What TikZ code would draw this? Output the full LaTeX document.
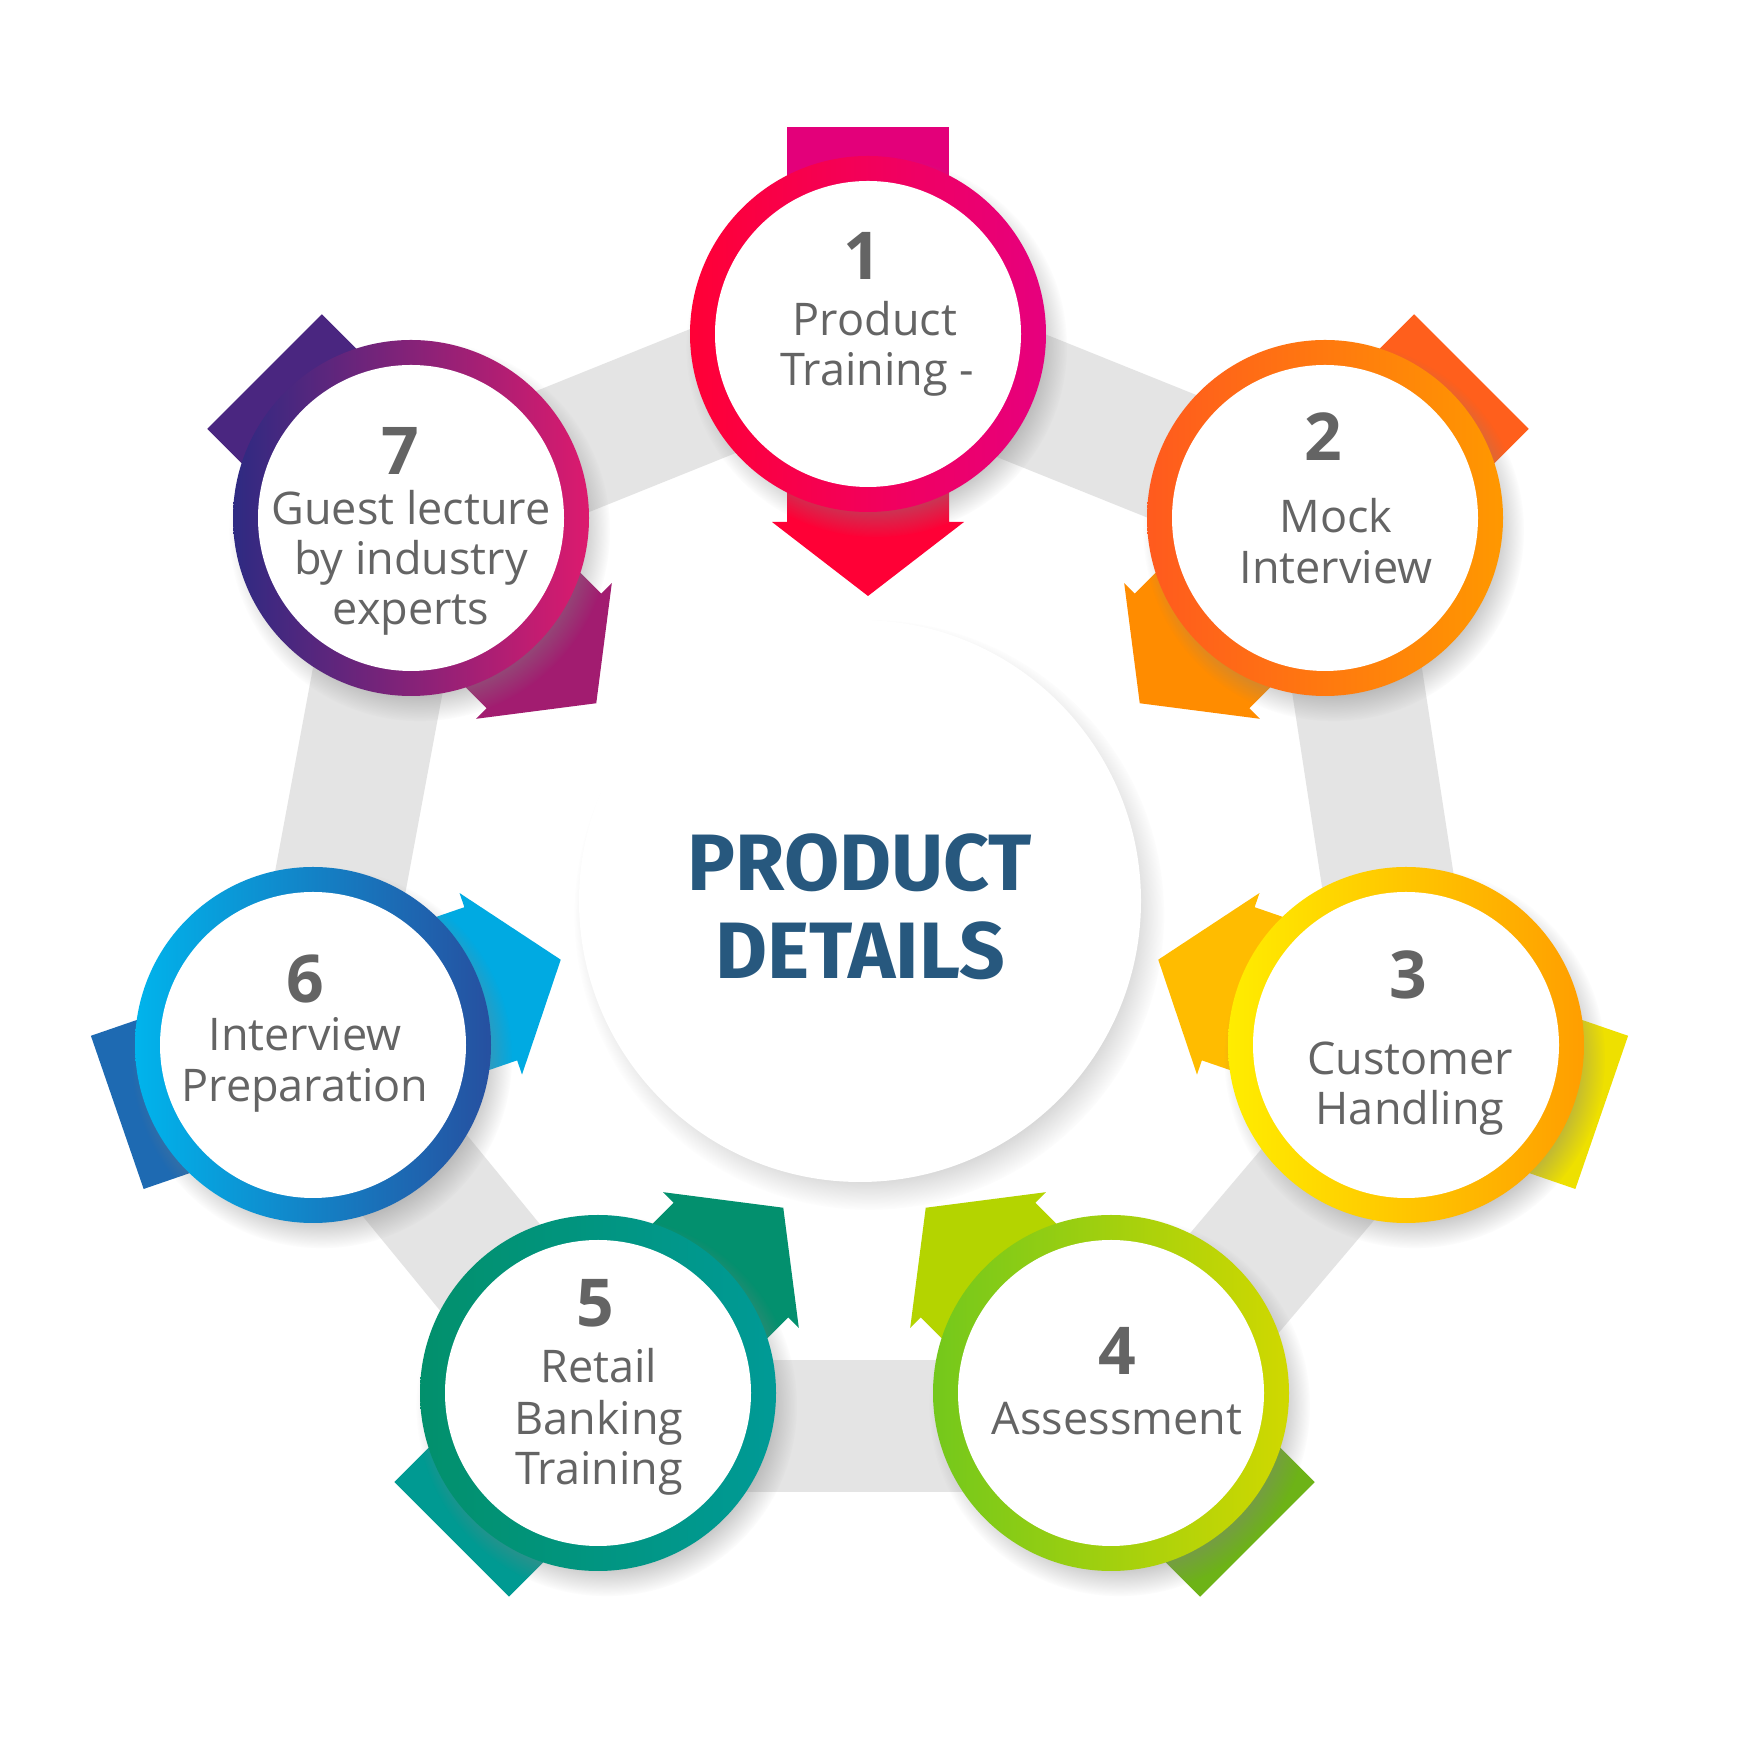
\documentclass[tikz,border=0pt]{standalone}
\usepackage{fontspec}
\setmainfont{Open Sans}
\newfontfamily\titlefont{Fira Sans}
\usetikzlibrary{calc,shadows,fadings}
\definecolor{txtgray}{HTML}{646464}
\definecolor{titleblue}{HTML}{27587E}
\definecolor{bandgray}{HTML}{E4E4E4}
% ring colours
\definecolor{r1L}{HTML}{FF0036}\definecolor{r1R}{HTML}{E6007E}
\definecolor{r2L}{HTML}{FF5A1E}\definecolor{r2R}{HTML}{FF9800}
\definecolor{r3L}{HTML}{FFED00}\definecolor{r3R}{HTML}{FF9E00}
\definecolor{r4L}{HTML}{74C81C}\definecolor{r4R}{HTML}{D0D800}
\definecolor{r5L}{HTML}{02906C}\definecolor{r5R}{HTML}{009A96}
\definecolor{r6L}{HTML}{00B4EC}\definecolor{r6R}{HTML}{2650A0}
\definecolor{r7L}{HTML}{2E2A82}\definecolor{r7R}{HTML}{DC1A6E}
% arrow colours
\definecolor{a1T}{HTML}{E3007A}\definecolor{a1H}{HTML}{FF0036}
\definecolor{a2T}{HTML}{FF5F1C}\definecolor{a2H}{HTML}{FF8C00}
\definecolor{a3T}{HTML}{EEE000}\definecolor{a3H}{HTML}{FFBC00}
\definecolor{a4T}{HTML}{6DB317}\definecolor{a4H}{HTML}{B4D400}
\definecolor{a5T}{HTML}{009A92}\definecolor{a5H}{HTML}{03906E}
\definecolor{a6T}{HTML}{1E6AB2}\definecolor{a6H}{HTML}{00AAE2}
\definecolor{a7T}{HTML}{4A2680}\definecolor{a7H}{HTML}{A21C70}

\newcommand\flowarrow[4]{%
  \begin{scope}[shift={(#1)}, rotate=#2]
    \fill[#3] (-207,-81) rectangle (0,81);
    \fill[#4] (0,-81) -- (188,-81) -- (188,-96) -- (262,0) -- (188,96) -- (188,81) -- (0,81) -- cycle;
  \end{scope}}

\tikzset{
  band/.style={line width=132pt, draw=bandgray},
  ringshape/.style={circle, minimum size=356pt, inner sep=0pt,
    circular drop shadow={shadow xshift=8pt, shadow yshift=-12pt, opacity=.42, shadow scale=1.07}},
  innerdisc/.style={circle, fill=white, minimum size=306pt, inner sep=0pt},
  hubdisc/.style={circle, fill=white, minimum size=562pt, inner sep=0pt,
    circular drop shadow={shadow xshift=9pt, shadow yshift=-13pt, opacity=.42, shadow scale=1.05}},
  numtxt/.style={anchor=base, text=txtgray, inner sep=0pt, font=\fontsize{66}{66}\selectfont\bfseries},
  labtxt/.style={anchor=base, text=txtgray, inner sep=0pt, font=\fontsize{45}{50}\selectfont},
  titletxt/.style={anchor=base, text=titleblue, inner sep=0pt, font=\titlefont\fontsize{80}{88}\selectfont\bfseries},
}

\begin{document}
\begin{tikzpicture}[x=1pt,y=1pt]
\useasboundingbox (0,0) rectangle (1748,1748);
\fill[white] (0,0) rectangle (1748,1748);

% centres
\coordinate (c1) at (868,1414);
\coordinate (c2) at (1325,1230);
\coordinate (c3) at (1406,703);
\coordinate (c4) at (1111,355);
\coordinate (c5) at (598,355);
\coordinate (c6) at (313,703);
\coordinate (c7) at (411,1230);
\coordinate (hubc) at (860,847);

% grey band
\draw[band] (c1) -- (c2);
\draw[band] ($(c2)!7pt!90:(c3)$) -- ($(c3)!7pt!-90:(c2)$);
\draw[band] ($(c3)!23pt!90:(c4)$) -- ($(c4)!23pt!-90:(c3)$);
\draw[band] ($(c4)!33pt!90:(c5)$) -- ($(c5)!33pt!-90:(c4)$);
\draw[band] ($(c5)!4pt!90:(c6)$) -- ($(c6)!4pt!-90:(c5)$);
\draw[band] ($(c6)!3pt!90:(c7)$) -- ($(c7)!3pt!-90:(c6)$);
\draw[band] ($(c7)!5pt!90:(c1)$) -- ($(c1)!5pt!-90:(c7)$);

% arrows
\flowarrow{c1}{270}{a1T}{a1H}
\flowarrow{c2}{225}{a2T}{a2H}
\flowarrow{c3}{161}{a3T}{a3H}
\flowarrow{c4}{135}{a4T}{a4H}
\flowarrow{c5}{45}{a5T}{a5H}
\flowarrow{c6}{19}{a6T}{a6H}
\flowarrow{c7}{-45}{a7T}{a7H}

% hub
\node[hubdisc] (hub) at (hubc) {};
\node[titletxt] (t1) at (860,857) {PRODUCT};
\node[titletxt] (t2) at (860,769) {DETAILS};

% rings
\foreach \i in {1,...,7}{
  \node[ringshape, left color=r\i L, right color=r\i R] (ring\i) at (c\i) {};
  \node[innerdisc] (disc\i) at (c\i) {};
}

% texts
\node[numtxt] (n1) at (862,1468) {1};
\node[labtxt] (l1a) at (875,1412) {Product};
\node[labtxt] (l1b) at (877,1362) {Training -};

\node[numtxt] (n2) at (1323,1287) {2};
\node[labtxt] (l2a) at (1336,1215) {Mock};
\node[labtxt] (l2b) at (1336,1164) {Interview};

\node[numtxt] (n3) at (1408,749) {3};
\node[labtxt] (l3a) at (1410,673) {Customer};
\node[labtxt] (l3b) at (1410,623) {Handling};

\node[numtxt] (n4) at (1117,373) {4};
\node[labtxt] (l4a) at (1117,313) {Assessment};

\node[numtxt] (n5) at (595,421) {5};
\node[labtxt] (l5a) at (599,365) {Retail};
\node[labtxt] (l5b) at (599,313) {Banking};
\node[labtxt] (l5c) at (599,263) {Training};

\node[numtxt] (n6) at (305,745) {6};
\node[labtxt] (l6a) at (305,697) {Interview};
\node[labtxt] (l6b) at (305,646) {Preparation};

\node[numtxt] (n7) at (400,1273) {7};
\node[labtxt] (l7a) at (411,1223) {Guest lecture};
\node[labtxt] (l7b) at (411,1173) {by industry};
\node[labtxt] (l7c) at (411,1123) {experts};
\end{tikzpicture}
\end{document}
